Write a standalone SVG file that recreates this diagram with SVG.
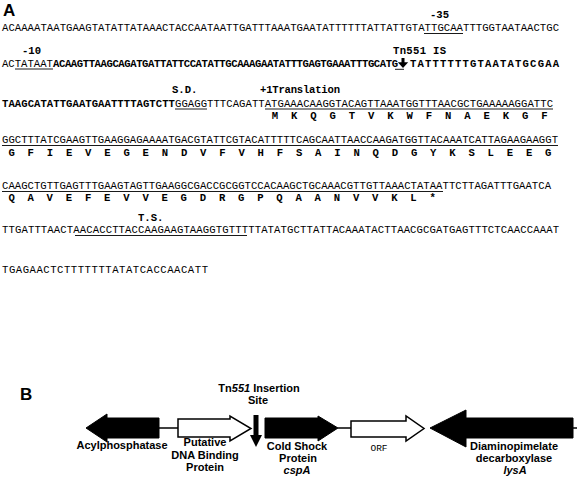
<svg xmlns="http://www.w3.org/2000/svg" width="578" height="478" viewBox="0 0 578 478">
<style>
.seq{font-family:"Liberation Mono","Courier New",monospace;font-size:10.6px;fill:#000}
.b{font-weight:bold}
.aa{font-family:"Liberation Mono","Courier New",monospace;font-size:10.6px;font-weight:bold;text-anchor:middle}
.hd{font-family:"Liberation Sans",Arial,sans-serif;font-weight:bold;font-size:17px}
.lab{font-family:"Liberation Sans",Arial,sans-serif;font-weight:bold;font-size:11px;text-anchor:middle}
.ul{stroke:#000;stroke-width:0.9;fill:none}
.blk{fill:#000;stroke:#000;stroke-width:1}
.wht{fill:#fff;stroke:#000;stroke-width:1.5}
.con{stroke:#000;stroke-width:1.5;fill:none}
</style>
<rect width="578" height="478" fill="#fff"/>

<g id="panelA">
<text class="hd" x="3" y="16">A</text>

<text class="seq b" x="430" y="18">-35</text>
<text class="seq" x="2" y="31" textLength="557" lengthAdjust="spacing">ACAAAATAATGAAGTATATTATAAACTACCAATAATTGATTTAAATGAATATTTTTTATTATTGTATTGCAATTTGGTAATAACTGC</text>
<line class="ul" x1="424" y1="33.5" x2="463" y2="33.5"/>

<text class="seq b" x="22" y="54">-10</text>
<text class="seq b" x="393" y="54" textLength="53" lengthAdjust="spacing">Tn551 IS</text>
<text class="seq" x="2" y="67">AC<tspan>TATAAT</tspan></text>
<line class="ul" x1="15" y1="69" x2="53" y2="69"/>
<text class="seq b" x="53" y="67" textLength="345" lengthAdjust="spacing">ACAAGTTAAGCAGATGATTATTCCATATTGCAAAGAATATTTGAGTGAAATTTGCATG</text>
<g id="tnArrow">
<rect x="401.5" y="58" width="3" height="5" fill="#000"/>
<polygon points="397.8,62.3 408.2,62.3 403,68" fill="#000"/>
<line class="ul" x1="395" y1="69.3" x2="404" y2="69.3"/>
</g>
<text class="seq b" x="410" y="67" textLength="149" lengthAdjust="spacing">TATTTTTTGTAATATGCGAA</text>

<text class="seq b" x="172" y="93">S.D.</text>
<text class="seq b" x="260" y="93" textLength="80" lengthAdjust="spacing">+1Translation</text>
<text class="seq" x="2" y="107" textLength="551" lengthAdjust="spacing"><tspan class="b">TAAGCATATTGAATGAATTTTAGTCTT</tspan>GGAGGTTTCAGATTATGAAACAAGGTACAGTTAAATGGTTTAACGCTGAAAAAGGATTC</text>
<line class="ul" x1="175" y1="109" x2="207" y2="109"/>
<line class="ul" x1="265" y1="109" x2="553" y2="109"/>
<text class="aa" y="119" x="274.9 294.1 313.4 332.6 351.9 371.2 390.4 409.7 428.9 448.2 467.5 486.7 506 525.2 544.5">MKQGTVKWFNAEKGF</text>

<text class="seq" x="2" y="143" textLength="556" lengthAdjust="spacing">GGCTTTATCGAAGTTGAAGGAGAAAATGACGTATTCGTACATTTTTCAGCAATTAACCAAGATGGTTACAAATCATTAGAAGAAGGT</text>
<line class="ul" x1="2" y1="145.5" x2="558" y2="145.5"/>
<text class="aa" y="156" x="11.6 30.8 49.9 69.1 88.3 107.4 126.6 145.8 164.9 184.1 203.3 222.5 241.6 260.8 280 299.1 318.3 337.5 356.6 375.8 395 414.2 433.3 452.5 471.7 490.8 510 529.2 548.3">GFIEVEGENDVFVHFSAINQDGYKSLEEG</text>

<text class="seq" x="2" y="189" textLength="549" lengthAdjust="spacing">CAAGCTGTTGAGTTTGAAGTAGTTGAAGGCGACCGCGGTCCACAAGCTGCAAACGTTGTTAAACTATAATTCTTAGATTTGAATCA</text>
<line class="ul" x1="2" y1="191.5" x2="443" y2="191.5"/>
<text class="aa" y="200.5" x="11.6 30.7 49.8 69 88.1 107.3 126.4 145.6 164.7 183.8 203 222.1 241.3 260.4 279.5 298.7 317.8 337 356.1 375.2 394.4 413.5 432.7">QAVEFEVVEGDRGPQAANVVKL*</text>

<text class="seq b" x="138" y="221">T.S.</text>
<text class="seq" x="2" y="233" textLength="557" lengthAdjust="spacing">TTGATTTAACTAACACCTTACCAAGAAGTAAGGTGTTTTTATATGCTTATTACAAATACTTAACGCGATGAGTTTCTCAACCAAAT</text>
<line class="ul" x1="75" y1="235.5" x2="247" y2="235.5"/>

<text class="seq" x="2" y="273" textLength="206" lengthAdjust="spacing">TGAGAACTCTTTTTTTATATCACCAACATT</text>
</g>

<g id="panelB">
<text class="hd" x="20" y="400">B</text>

<g id="connectors">
<line class="con" x1="159" y1="428" x2="178" y2="428"/>
<line class="con" x1="338" y1="428" x2="351" y2="428"/>
<line class="con" x1="573" y1="428" x2="577" y2="428"/>
</g>

<g id="acylphosphatase">
<polygon class="blk" points="86,428 107,414 107,418 159,418 159,438 107,438 107,442"/>
<text class="lab" x="122" y="449">Acylphosphatase</text>
</g>

<g id="putative">
<polygon class="wht" points="178,419 230,419 230,416 251,428.5 230,441 230,437 178,437"/>
<text class="lab" x="205" y="446">Putative</text>
<text class="lab" x="205" y="458.5">DNA Binding</text>
<text class="lab" x="205" y="471">Protein</text>
</g>

<g id="insertion">
<rect x="253.5" y="415" width="5" height="21" fill="#000"/>
<polygon points="250,435 262,435 256,447" fill="#000"/>
<text class="lab" x="259" y="392">Tn<tspan font-style="italic">551</tspan> Insertion</text>
<text class="lab" x="258" y="404">Site</text>
</g>

<g id="cspA">
<polygon class="blk" points="265,418 318,418 318,416 338,428 318,441 318,438 265,438"/>
<text class="lab" x="297" y="450">Cold Shock</text>
<text class="lab" x="298" y="462">Protein</text>
<text class="lab" x="297" y="474" font-style="italic">cspA</text>
</g>

<g id="orf">
<polygon class="wht" points="351,421 406,421 406,416 424,428.5 406,441 406,437 351,437"/>
<text x="379" y="451" text-anchor="middle" font-family="Liberation Mono, monospace" font-size="9.5">ORF</text>
</g>

<g id="lysA">
<polygon class="blk" points="430,428 466,410 466,418 573,418 573,438 466,438 466,447"/>
<text class="lab" x="514" y="450">Diaminopimelate</text>
<text class="lab" x="514" y="462">decarboxylase</text>
<text class="lab" x="515" y="474" font-style="italic">lysA</text>
</g>
</g>
</svg>
